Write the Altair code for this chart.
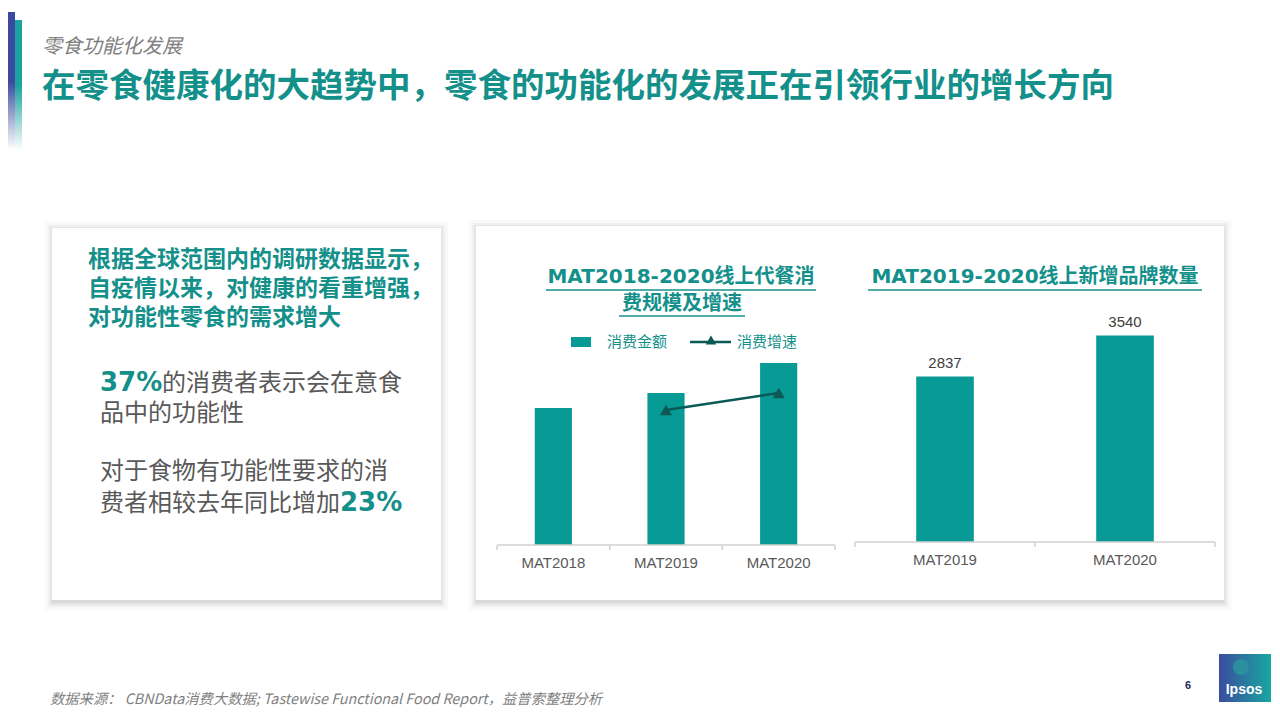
import altair as alt
import pandas as pd

# ---------------- data ----------------
cats1 = ["MAT2018", "MAT2019", "MAT2020"]
spend = [137, 152, 182]          # relative online meal-replacement spend (no labels in source)
growth = [None, 27.0, 30.4]      # relative growth rate (no labels in source)
cats2 = ["MAT2019", "MAT2020"]
brands = [2837, 3540]

sub_title = "零食功能化发展"
main_title = "在零食健康化的大趋势中，零食的功能化的发展正在引领行业的增长方向"
left_head = ["根据全球范围内的调研数据显示，", "自疫情以来，对健康的看重增强，", "对功能性零食的需求增大"]
stat1_num, stat1_a, stat1_b = "37%", "的消费者表示会在意食", "品中的功能性"
stat2_a, stat2_b, stat2_num = "对于食物有功能性要求的消", "费者相较去年同比增加", "23%"
c1_title = ["MAT2018-2020线上代餐消", "费规模及增速"]
c2_title = "MAT2019-2020线上新增品牌数量"
legend_names = ["消费金额", "消费增速"]
footer = "数据来源：  CBNData消费大数据; Tastewise Functional Food Report，益普索整理分析"
page_no = "6"
logo_text = "Ipsos"

df1 = pd.DataFrame({"cat": cats1, "spend": spend, "growth": growth})
df2 = pd.DataFrame({"cat": cats2, "brands": brands})
base = pd.DataFrame({"k": [0]})

TEAL = "#089a95"
TTEAL = "#14908b"
DARK = "#0b5a55"
GRAY = "#595959"
AXIS = "#d0d0d0"
CJK = "Noto Sans CJK SC"
WIDE = "DejaVu Sans, Noto Sans CJK SC"


def px(v):
    return v - 8


def rect(x0, y0, x1, y1, color, opacity=1.0, **kw):
    return alt.Chart().mark_rect(color=color, opacity=opacity, **kw).encode(
        x=alt.value(px(x0)), x2=alt.value(px(x1)), y=alt.value(px(y0)), y2=alt.value(px(y1)))


def text(s, x, y, size, color, weight="normal", style="normal", align="left", font=CJK):
    return alt.Chart().mark_text(align=align, baseline="middle", fontSize=size, color=color,
                                 fontWeight=weight, fontStyle=style, font=font).encode(
        x=alt.value(px(x)), y=alt.value(px(y)), text=alt.value(s))


def hline(x0, x1, y, color, width=1.5):
    return alt.Chart().mark_rule(color=color, strokeWidth=width).encode(
        x=alt.value(px(x0)), x2=alt.value(px(x1)), y=alt.value(px(y)))


def vline(x, y0, y1, color, width=1.5):
    return alt.Chart().mark_rule(color=color, strokeWidth=width).encode(
        x=alt.value(px(x)), y=alt.value(px(y0)), y2=alt.value(px(y1)))


def card(x0, y0, x1, y1):
    out = []
    for d, op in [(8, 0.025), (5, 0.035), (3, 0.045), (1, 0.05)]:
        out.append(rect(x0 - d + 1, y0 - d + 2, x1 + d - 1, y1 + d + 2, "#000000", op))
    out.append(rect(x0, y0, x1, y1, "#ffffff"))
    return out


def cat_axis(df, scale, x0, x1, n, y, label_y):
    out = [hline(x0, x1, y, AXIS)]
    step = (x1 - x0) / n
    for i in range(n + 1):
        out.append(vline(x0 + i * step, y, y + 5, AXIS))
    out.append(alt.Chart(df).mark_text(baseline="middle", fontSize=15, font="Liberation Sans",
                                       color=GRAY).encode(
        x=alt.X("cat:N", scale=scale, axis=None), y=alt.value(px(label_y)), text="cat:N"))
    return out


layers = []

# white page background (covers any frame stroke)
layers.append(rect(8, 8, 1272, 712, "#ffffff"))

# decoration strip top-left
blue_grad = alt.Gradient(gradient="linear", x1=0, x2=0, y1=0, y2=1,
                         stops=[alt.GradientStop(offset=0, color="#3a4a9e"),
                                alt.GradientStop(offset=0.5, color="#3a4a9e"),
                                alt.GradientStop(offset=1, color="#ffffff")])
teal_grad = alt.Gradient(gradient="linear", x1=0, x2=0, y1=0, y2=1,
                         stops=[alt.GradientStop(offset=0, color="#1aa3a0"),
                                alt.GradientStop(offset=0.5, color="#1aa3a0"),
                                alt.GradientStop(offset=1, color="#ffffff")])
layers.append(rect(8, 12, 15, 150, blue_grad))
layers.append(rect(15, 20, 22, 150, teal_grad))

# titles
layers.append(text(sub_title, 42, 47, 20, "#808080", style="italic"))
layers.append(text(main_title, 42, 87, 33.5, TTEAL, weight="bold"))

# cards
layers += card(52, 228, 441, 600)
layers += card(476, 226, 1224, 600)

# left card text
for i, line in enumerate(left_head):
    layers.append(text(line, 88, 260 + i * 29, 23, TTEAL, weight="bold"))
layers.append(text(stat1_num, 100, 383, 26, TTEAL, weight="bold", font=WIDE))
layers.append(text(stat1_a, 162, 384, 24, GRAY))
layers.append(text(stat1_b, 100, 414, 24, GRAY))
layers.append(text(stat2_a, 100, 472, 24, GRAY))
layers.append(text(stat2_b, 100, 504, 24, GRAY))
layers.append(text(stat2_num, 340, 503, 26, TTEAL, weight="bold", font=WIDE))

# chart 1 titles + underline
layers.append(text(c1_title[0], 681, 277, 20, TTEAL, weight="bold", align="center", font=WIDE))
layers.append(text(c1_title[1], 682, 304, 20, TTEAL, weight="bold", align="center", font=WIDE))
layers.append(hline(546, 816, 290, TTEAL))
layers.append(hline(619, 745, 316, TTEAL))

# chart 1 legend
layers.append(rect(571, 337, 591, 347, TEAL))
layers.append(text(legend_names[0], 607, 342, 15, TTEAL))
layers.append(hline(690, 731, 342, DARK, 2.5))
layers.append(alt.Chart().mark_point(shape="triangle-up", filled=True, size=110, color=DARK, opacity=1).encode(
    x=alt.value(px(711)), y=alt.value(px(340))))
layers.append(text(legend_names[1], 737, 342, 15, TTEAL))

# chart 1 bars + line
x1_scale = alt.Scale(type="band", domain=cats1, range=[px(497), px(835)], paddingInner=0.67, paddingOuter=0.335)
y1_scale = alt.Scale(domain=[0, 200], range=[px(545), px(345)])
yg_scale = alt.Scale(domain=[0, 40], range=[px(545), px(345)])

layers.append(alt.Chart(df1).mark_bar(color=TEAL).encode(
    x=alt.X("cat:N", scale=x1_scale, axis=None),
    y=alt.Y("spend:Q", scale=y1_scale, axis=None)))
layers += cat_axis(df1, x1_scale, 497, 835, 3, 545, 563)
layers.append(alt.Chart(df1).mark_line(color=DARK, strokeWidth=2.5).encode(
    x=alt.X("cat:N", scale=x1_scale, axis=None),
    y=alt.Y("growth:Q", scale=yg_scale, axis=None)))
layers.append(alt.Chart(df1).mark_point(shape="triangle-up", filled=True, size=150, color=DARK, opacity=1).encode(
    x=alt.X("cat:N", scale=x1_scale, axis=None),
    y=alt.Y("growth:Q", scale=yg_scale, axis=None)))

# chart 2
layers.append(text(c2_title, 1035, 277, 20, TTEAL, weight="bold", align="center", font=WIDE))
layers.append(hline(868, 1202, 290, TTEAL))
x2_scale = alt.Scale(type="band", domain=cats2, range=[px(855), px(1215)], paddingInner=0.68, paddingOuter=0.34)
y2_scale = alt.Scale(domain=[0, 4000], range=[px(542), px(542 - 4000 / 17.15)])
layers.append(alt.Chart(df2).mark_bar(color=TEAL).encode(
    x=alt.X("cat:N", scale=x2_scale, axis=None),
    y=alt.Y("brands:Q", scale=y2_scale, axis=None)))
layers += cat_axis(df2, x2_scale, 855, 1215, 2, 542, 560)
layers.append(alt.Chart(df2).mark_text(dy=-14, fontSize=15, font="Liberation Sans", color="#404040").encode(
    x=alt.X("cat:N", scale=x2_scale, axis=None),
    y=alt.Y("brands:Q", scale=y2_scale, axis=None),
    text=alt.Text("brands:Q", format="d")))

# footer
layers.append(text(footer, 50, 700, 14.3, "#7f7f7f", style="italic"))
layers.append(text(page_no, 1188, 686, 11, "#1f2a5c", weight="bold", align="center", font="Liberation Sans"))
logo_grad = alt.Gradient(gradient="linear", x1=0, x2=1, y1=0, y2=0,
                         stops=[alt.GradientStop(offset=0, color="#3b4c9f"),
                                alt.GradientStop(offset=1, color="#19a7a0")])
layers.append(rect(1219, 654, 1271, 702, logo_grad))
layers.append(alt.Chart().mark_point(shape="circle", filled=True, size=260, color="#2b8fa0", opacity=1).encode(
    x=alt.value(px(1241)), y=alt.value(px(667))))
layers.append(text(logo_text, 1244, 690, 14, "#ffffff", weight="bold", align="center", font="Liberation Sans"))

chart = alt.layer(*layers, data=base).resolve_scale(x="independent", y="independent").properties(
    width=1264, height=704, padding=0, autosize=alt.AutoSizeParams(type="none")
).configure_view(stroke="transparent", strokeWidth=0).configure(background="#ffffff")

chart.save("out.html", embed_options={"renderer": "svg", "actions": False})
